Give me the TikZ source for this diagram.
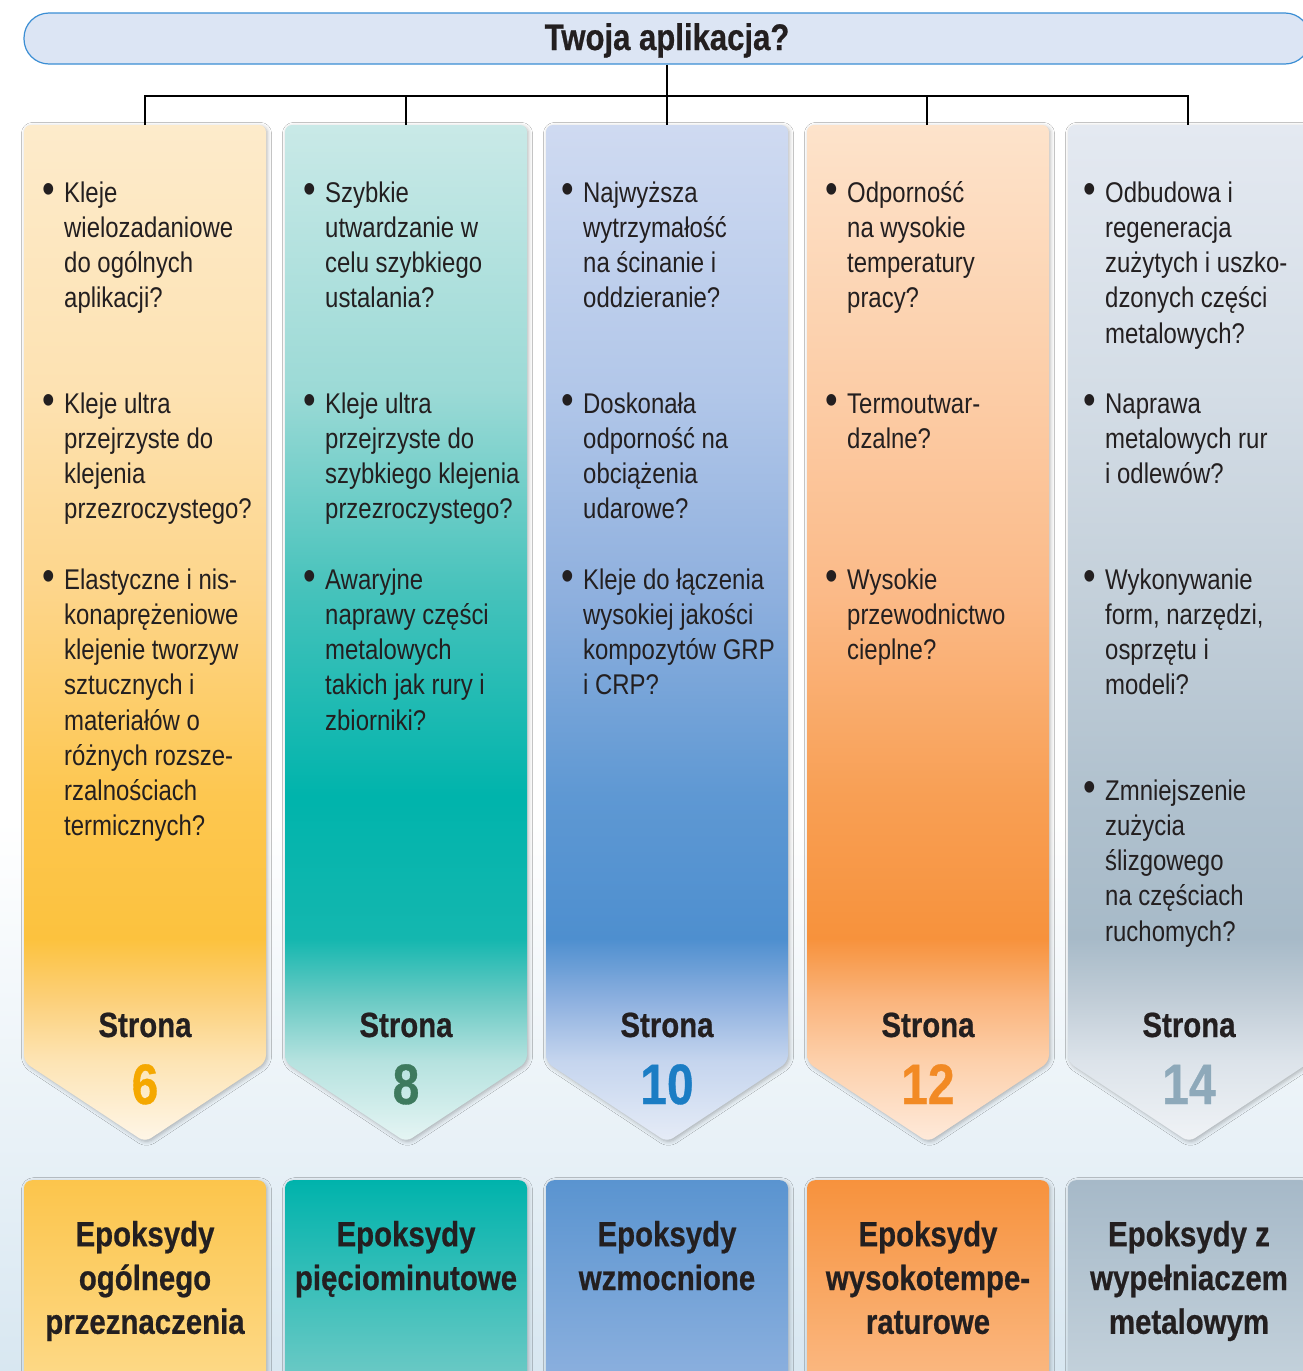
\documentclass[tikz,border=0pt]{standalone}
\usepackage{graphicx}
\usepackage{fontspec}
\setmainfont{Liberation Sans}[FakeStretch=0.84, BoldFeatures={FakeBold=0.6}]
\usetikzlibrary{shadows.blur}
\definecolor{txt}{HTML}{231F20}
\definecolor{pillfill}{HTML}{DCE5F4}
\definecolor{pilldraw}{HTML}{3B8ED4}
\definecolor{bgbot}{HTML}{D8E7F1}
% column A yellow
\definecolor{aA0}{HTML}{FEF6E8}\definecolor{aA1}{HTML}{FDE4B4}\definecolor{aA2}{HTML}{FCD07A}
\definecolor{aA3}{HTML}{FCC23E}\definecolor{aA4}{HTML}{FDC750}\definecolor{aA5}{HTML}{FDD58A}
\definecolor{aA6}{HTML}{FDE2B2}\definecolor{aA7}{HTML}{FDEBCB}
% column B teal
\definecolor{aB0}{HTML}{E6F5F4}\definecolor{aB1}{HTML}{B5E2DF}\definecolor{aB2}{HTML}{6ACAC4}
\definecolor{aB3}{HTML}{14B7AF}\definecolor{aB4}{HTML}{00B4AC}\definecolor{aB5}{HTML}{45C2BB}
\definecolor{aB6}{HTML}{9CDAD6}\definecolor{aB7}{HTML}{C9E9E7}
% column C blue
\definecolor{aC0}{HTML}{E6ECF7}\definecolor{aC1}{HTML}{C5D5EE}\definecolor{aC2}{HTML}{8DB0DF}
\definecolor{aC3}{HTML}{4E8FCF}\definecolor{aC4}{HTML}{5E98D3}\definecolor{aC5}{HTML}{8FB0DE}
\definecolor{aC6}{HTML}{B2C7E9}\definecolor{aC7}{HTML}{CFDAF1}
% column D orange
\definecolor{aD0}{HTML}{FEEADB}\definecolor{aD1}{HTML}{FDD0AB}\definecolor{aD2}{HTML}{FAB47C}
\definecolor{aD3}{HTML}{F7923C}\definecolor{aD4}{HTML}{F89F54}\definecolor{aD5}{HTML}{FBBA88}
\definecolor{aD6}{HTML}{FCCDA7}\definecolor{aD7}{HTML}{FDE3CB}
% column E grey blue
\definecolor{aE0}{HTML}{F0F3F6}\definecolor{aE1}{HTML}{DCE3EA}\definecolor{aE2}{HTML}{C1CDD7}
\definecolor{aE3}{HTML}{A7BAC8}\definecolor{aE4}{HTML}{B0C1CE}\definecolor{aE5}{HTML}{C4D0DA}
\definecolor{aE6}{HTML}{D4DDE6}\definecolor{aE7}{HTML}{E4E9F1}
% bottom boxes
\definecolor{bAt}{HTML}{FCC54C}\definecolor{bAb}{HTML}{FDDC90}
\definecolor{bBt}{HTML}{00B3AC}\definecolor{bBb}{HTML}{7DCDC9}
\definecolor{bCt}{HTML}{5A94D0}\definecolor{bCb}{HTML}{93B4E0}
\definecolor{bDt}{HTML}{F7923D}\definecolor{bDb}{HTML}{FBBE8C}
\definecolor{bEt}{HTML}{A6B9C8}\definecolor{bEb}{HTML}{C8D5DE}
% numbers
\definecolor{nA}{HTML}{F5A800}\definecolor{nB}{HTML}{3E7A5E}\definecolor{nC}{HTML}{1B7DC4}
\definecolor{nD}{HTML}{F28A24}\definecolor{nE}{HTML}{8EA9BA}
\newcommand\mkshade[1]{%
\pgfdeclareverticalshading{shade#1}{100bp}{color(0bp)=(a#10); color(25bp)=(a#10);
 color(29bp)=(a#11); color(32bp)=(a#12); color(35bp)=(a#13); color(42bp)=(a#14);
 color(52bp)=(a#15); color(62bp)=(a#16); color(75bp)=(a#17); color(100bp)=(a#17)}}
\mkshade{A}\mkshade{B}\mkshade{C}\mkshade{D}\mkshade{E}
\newcommand\bul{\rule{0pt}{22pt}\llap{\raisebox{-1pt}{\scalebox{1.5}{•}}\hspace{9pt}}}
\newcommand\colpath[2]{%
  \path[colstyle, shading=shade#2] (#1,1062) -- (#1,125) -- ({#1+242},125) -- ({#1+242},1062) -- ({#1+121},1142) -- cycle;}
\begin{document}
\begin{tikzpicture}[x=1pt,y=-1pt,
  colstyle/.style={rounded corners=7pt, blur shadow={shadow xshift=1.5pt, shadow yshift=-1.5pt, shadow blur radius=4pt, shadow opacity=28}},
  bottombox/.style={rectangle, rounded corners=8pt, minimum width=242pt, minimum height=230pt, anchor=north, inner sep=0pt,
     blur shadow={shadow xshift=1.5pt, shadow yshift=-1.5pt, shadow blur radius=4pt, shadow opacity=25}},
  pill/.style={rectangle, rounded corners=25pt, minimum width=1286pt, minimum height=51pt, fill=pillfill, draw=pilldraw, line width=1.2pt, inner sep=0pt},
  titletext/.style={anchor=base, text=txt, font=\bfseries\fontsize{37}{42}\selectfont, inner sep=0pt},
  item/.style={anchor=north west, align=left, inner sep=0pt, text=txt, font=\fontsize{28.5}{35.2}\selectfont},
  strona/.style={anchor=base, inner sep=0pt, text=txt, font=\bfseries\fontsize{35}{42}\selectfont},
  pagenum/.style={anchor=base, inner sep=0pt, font=\bfseries\fontsize{57}{60}\selectfont},
  prodtext/.style={anchor=north, align=center, inner sep=0pt, text=txt, font=\bfseries\fontsize{35}{43.8}\selectfont},
  conn/.style={draw=black, line width=2pt}]
\useasboundingbox (0,0) rectangle (1303,1371);
\fill[white] (0,0) rectangle (1303,1371);
\shade[top color=white, bottom color=bgbot] (0,820) rectangle (1303,1371);

% header pill
\node[pill] (app) at (667,38.5) {};
\node[titletext] (apptitle) at (667,50) {Twoja aplikacja?};

% columns
\colpath{24}{A}
\colpath{285}{B}
\colpath{546}{C}
\colpath{807}{D}
\colpath{1068}{E}

% connectors
\coordinate (c1) at (145,125);
\coordinate (c2) at (406,125);
\coordinate (c3) at (667,125);
\coordinate (c4) at (927,125);
\coordinate (c5) at (1188,125);
\coordinate (bar) at (667,96);
\draw[conn] (app.south) -- (c3);
\draw[conn] (c1) -- (c1 |- bar) -- (c5 |- bar) -- (c5);
\draw[conn] (c2) -- (c2 |- bar);
\draw[conn] (c4) -- (c4 |- bar);

% column 1 text
\node[item] (t1a) at (64,180) {\bul Kleje\\wielozadaniowe\\do ogólnych\\aplikacji?};
\node[item] (t1b) at (64,391) {\bul Kleje ultra\\przejrzyste do\\klejenia\\przezroczystego?};
\node[item] (t1c) at (64,567) {\bul Elastyczne i nis-\\konaprężeniowe\\klejenie tworzyw\\sztucznych i\\materiałów o\\różnych rozsze-\\rzalnościach\\termicznych?};
% column 2 text
\node[item] (t2a) at (325,180) {\bul Szybkie\\utwardzanie w\\celu szybkiego\\ustalania?};
\node[item] (t2b) at (325,391) {\bul Kleje ultra\\przejrzyste do\\szybkiego klejenia\\przezroczystego?};
\node[item] (t2c) at (325,567) {\bul Awaryjne\\naprawy części\\metalowych\\takich jak rury i\\zbiorniki?};
% column 3 text
\node[item] (t3a) at (583,180) {\bul Najwyższa\\wytrzymałość\\na ścinanie i\\oddzieranie?};
\node[item] (t3b) at (583,391) {\bul Doskonała\\odporność na\\obciążenia\\udarowe?};
\node[item] (t3c) at (583,567) {\bul Kleje do łączenia\\wysokiej jakości\\kompozytów GRP\\i CRP?};
% column 4 text
\node[item] (t4a) at (847,180) {\bul Odporność\\na wysokie\\temperatury\\pracy?};
\node[item] (t4b) at (847,391) {\bul Termoutwar-\\dzalne?};
\node[item] (t4c) at (847,567) {\bul Wysokie\\przewodnictwo\\cieplne?};
% column 5 text
\node[item] (t5a) at (1105,180) {\bul Odbudowa i\\regeneracja\\zużytych i uszko-\\dzonych części\\metalowych?};
\node[item] (t5b) at (1105,391) {\bul Naprawa\\metalowych rur\\i odlewów?};
\node[item] (t5c) at (1105,567) {\bul Wykonywanie\\form, narzędzi,\\osprzętu i\\modeli?};
\node[item] (t5d) at (1105,778) {\bul Zmniejszenie\\zużycia\\ślizgowego\\na częściach\\ruchomych?};

% Strona labels and page numbers
\node[strona] (s1) at (145,1037) {Strona};
\node[strona] (s2) at (406,1037) {Strona};
\node[strona] (s3) at (667,1037) {Strona};
\node[strona] (s4) at (928,1037) {Strona};
\node[strona] (s5) at (1189,1037) {Strona};
\node[pagenum, text=nA] (n1) at (145,1104) {6};
\node[pagenum, text=nB] (n2) at (406,1104) {8};
\node[pagenum, text=nC] (n3) at (667,1104) {10};
\node[pagenum, text=nD] (n4) at (928,1104) {12};
\node[pagenum, text=nE] (n5) at (1189,1104) {14};

% bottom boxes
\node[bottombox, top color=bAt, bottom color=bAb] (b1) at (145,1180) {};
\node[bottombox, top color=bBt, bottom color=bBb] (b2) at (406,1180) {};
\node[bottombox, top color=bCt, bottom color=bCb] (b3) at (667,1180) {};
\node[bottombox, top color=bDt, bottom color=bDb] (b4) at (928,1180) {};
\node[bottombox, top color=bEt, bottom color=bEb] (b5) at (1189,1180) {};
\node[prodtext] (p1) at (145,1219) {\rule{0pt}{27pt}Epoksydy\\ogólnego\\przeznaczenia};
\node[prodtext] (p2) at (406,1219) {\rule{0pt}{27pt}Epoksydy\\pięciominutowe};
\node[prodtext] (p3) at (667,1219) {\rule{0pt}{27pt}Epoksydy\\wzmocnione};
\node[prodtext] (p4) at (928,1219) {\rule{0pt}{27pt}Epoksydy\\wysokotempe-\\raturowe};
\node[prodtext] (p5) at (1189,1219) {\rule{0pt}{27pt}Epoksydy z\\wypełniaczem\\metalowym};
\end{tikzpicture}
\end{document}
